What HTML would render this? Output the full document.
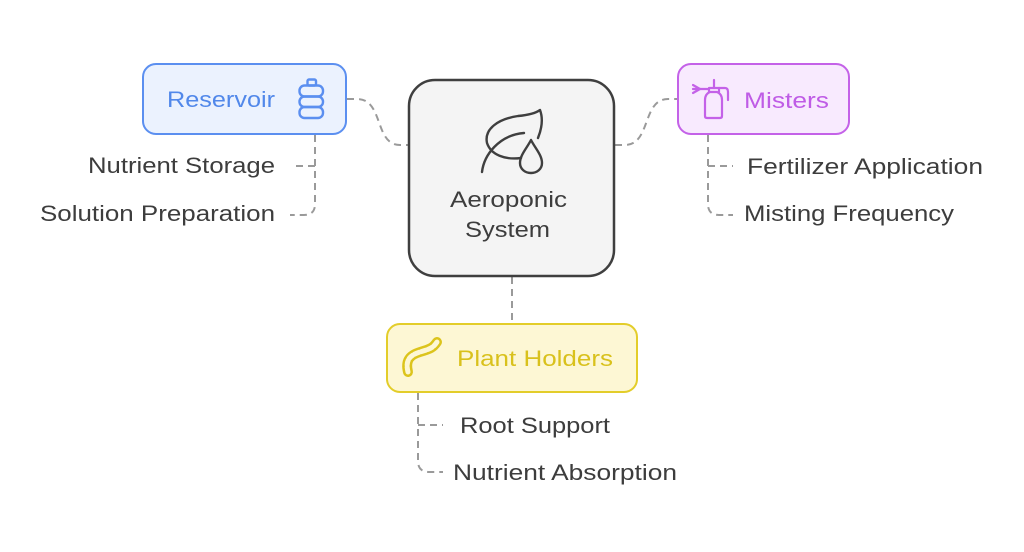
<!DOCTYPE html>
<html><head><meta charset="utf-8"><style>
html,body{margin:0;padding:0;background:#fff;}
svg{display:block;}
text{font-family:"Liberation Sans",Arial,sans-serif;font-size:22.5px;}
</style></head><body>
<svg width="1024" height="552" viewBox="0 0 1024 552" xmlns="http://www.w3.org/2000/svg">
<rect width="1024" height="552" fill="#fff"/>
<g fill="none" stroke="#9a9a9a" stroke-width="2" stroke-dasharray="7 5">
  <path d="M347 99 L357 99 C384 99 374 145 400 145 L408 145"/>
  <path d="M615 145 L625 145 C651 145 642 99 668 99 L677 99"/>
  <path d="M512 277 L512 323"/>
  <path d="M315 135 L315 204 Q315 215 304 215 L290 215"/>
  <path d="M315 166 L292 166"/>
  <path d="M708 135 L708 204 Q708 215 719 215 L733 215"/>
  <path d="M708 166 L733 166"/>
  <path d="M418 393 L418 461 Q418 472 429 472 L443 472"/>
  <path d="M418 425 L443 425"/>
</g>
<!-- boxes -->
<rect x="143" y="64" width="203" height="70" rx="13" fill="#ebf2fe" stroke="#5b8ff0" stroke-width="2"/>
<rect x="409" y="80" width="205" height="196" rx="26" fill="#f4f4f4" stroke="#3f3f3f" stroke-width="2.5"/>
<rect x="678" y="64" width="171" height="70" rx="13" fill="#f8eafe" stroke="#c462e8" stroke-width="2"/>
<rect x="387" y="324" width="250" height="68" rx="13" fill="#fdf7d4" stroke="#e3cd2a" stroke-width="2"/>
<!-- bottle icon -->
<g fill="none" stroke="#5b8ff0" stroke-width="2.4">
  <rect x="307.5" y="79.5" width="8.5" height="6" rx="1.5"/>
  <rect x="299.5" y="85.5" width="23.5" height="11" rx="5"/>
  <rect x="299.5" y="96.5" width="23.5" height="10.5" rx="5"/>
  <rect x="299.5" y="107" width="23.5" height="11" rx="5"/>
</g>
<!-- sprayer icon -->
<g fill="none" stroke="#c462e8" stroke-width="2.2" stroke-linecap="round" stroke-linejoin="round">
  <path d="M707 118 L720 118 Q722 118 722 116 L722 100 Q722 94 717 92 L710 92 Q705 94 705 100 L705 116 Q705 118 707 118 Z"/>
  <path d="M709 92 L709 88 L719 88 L719 92"/>
  <path d="M714 88 L714 80"/>
  <path d="M719 88 L725 88 Q728 88 728 92 L728 100"/>
  <path d="M709 89 L700 89"/>
  <path d="M700 89 L693 85 M700 89 L693 89 M700 89 L693 93"/>
</g>
<!-- worm icon -->
<path d="M408 372 C405 360 410 355 420 352 C430 349 433 348 437 342" fill="none" stroke="#dcc41c" stroke-width="10" stroke-linecap="round"/>
<path d="M408 372 C405 360 410 355 420 352 C430 349 433 348 437 342" fill="none" stroke="#fdf7d4" stroke-width="5" stroke-linecap="round" stroke-dasharray="5 2"/>
<!-- leaf icon -->
<g fill="none" stroke="#3f3f3f" stroke-width="2.4" stroke-linecap="round" stroke-linejoin="round">
  <path d="M521 158 C505 160 491 155 487 143 C484 129 498 119 518 116 C529 115 536 113 540 110 C543 118 542 128 538 138"/>
  <path d="M482 172 C484 155 499 135 524 133"/>
  <path d="M531 140 C527 148 520 155 520 163 C520 169 525 173 531 173 C537 173 542 169 542 163 C542 155 535 148 531 140 Z"/>
</g>
<!-- texts -->
<text x="167" y="107" fill="#5188ea" textLength="108" lengthAdjust="spacingAndGlyphs">Reservoir</text>
<text x="744" y="108" fill="#bf5ce6" textLength="85" lengthAdjust="spacingAndGlyphs">Misters</text>
<text x="457" y="366" fill="#d9c11c" textLength="156" lengthAdjust="spacingAndGlyphs">Plant Holders</text>
<text x="450" y="207" fill="#3d3d3d" textLength="117" lengthAdjust="spacingAndGlyphs">Aeroponic</text>
<text x="465" y="237" fill="#3d3d3d" textLength="85" lengthAdjust="spacingAndGlyphs">System</text>
<g fill="#3d3d3d">
<text x="88" y="173" textLength="187" lengthAdjust="spacingAndGlyphs">Nutrient Storage</text>
<text x="40" y="221" textLength="235" lengthAdjust="spacingAndGlyphs">Solution Preparation</text>
<text x="747" y="174" textLength="236" lengthAdjust="spacingAndGlyphs">Fertilizer Application</text>
<text x="744" y="221" textLength="210" lengthAdjust="spacingAndGlyphs">Misting Frequency</text>
<text x="460" y="433" textLength="150" lengthAdjust="spacingAndGlyphs">Root Support</text>
<text x="453" y="480" textLength="224" lengthAdjust="spacingAndGlyphs">Nutrient Absorption</text>
</g>
</svg>
</body></html>
